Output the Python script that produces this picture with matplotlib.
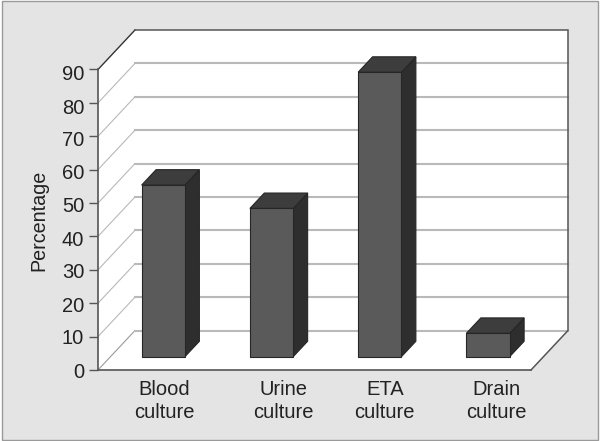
import matplotlib
matplotlib.use("Agg")
import matplotlib.pyplot as plt
from matplotlib.patches import Polygon, Rectangle
from matplotlib.transforms import ScaledTranslation

categories = ["Blood\nculture", "Urine\nculture", "ETA\nculture", "Drain\nculture"]
values = [51.4, 44.4, 85.2, 7.0]
y_ticks = [0, 10, 20, 30, 40, 50, 60, 70, 80, 90]

W, H = 600, 441
plt.rcParams["font.family"] = ["Liberation Sans", "DejaVu Sans"]
fig = plt.figure(figsize=(6, 4.41), dpi=100, facecolor="white")
fig.add_artist(Rectangle((1.5 / W, 1.5 / H), 596.5 / W, 438.5 / H, transform=fig.transFigure,
                         facecolor="#e4e4e4", edgecolor="#9a9a9a", linewidth=1.0, zorder=-5))

# front plane of the pseudo-3D box, in pixels
left, right, bottom, top = 98, 531, 71, 371.5
ax = fig.add_axes([left / W, bottom / H, (right - left) / W, (top - bottom) / H])
ax.set_xlim(0, 4)
ax.set_ylim(0, 90)
ax.patch.set_alpha(0)

DX = 37 / ((right - left) / 4)          # wall depth, x data units
DY = 39.5 / ((top - bottom) / 90)       # wall depth, y data units
start, depth, bar_w = 0.337, 0.39, 0.40
text_c, axis_c, grid_c = "#222222", "#555555", "#b9b9b9"

ax.add_patch(Polygon([(0, 0), (0, 90), (DX, 90 + DY), (4 + DX, 90 + DY), (4 + DX, DY), (4, 0)],
                     closed=True, facecolor="white", edgecolor="none", clip_on=False, zorder=1))

for v in y_ticks[:-1]:
    ax.plot([0, DX], [v, v + DY], color=grid_c if v else "#9a9a9a", lw=0.8, clip_on=False, zorder=2)
    if v:
        ax.plot([DX, 4 + DX], [v + DY, v + DY], color=grid_c, lw=1.5, clip_on=False, zorder=2)
ax.plot([DX, 4 + DX], [DY, DY], color=grid_c, lw=1.5, clip_on=False, zorder=2)

ax.plot([0, DX], [90, 90 + DY], color="#333333", lw=1.0, clip_on=False, zorder=3)
ax.plot([DX, 4 + DX, 4 + DX, 4], [90 + DY, 90 + DY, DY, 0], color=axis_c, lw=1.1,
        clip_on=False, zorder=3, solid_joinstyle="miter")

sx, sy = DX * start, DY * start
ex, ey = DX * depth, DY * depth
edge = "#262626"
for i, v in enumerate(values):
    x0 = i + 0.5 - bar_w / 2 + sx - 0.012
    x1 = x0 + bar_w
    ax.add_patch(Polygon([(x1, sy), (x1, sy + v), (x1 + ex, sy + v + ey), (x1 + ex, sy + ey)],
                         closed=True, facecolor="#2e2e2e", edgecolor=edge, lw=0.8, clip_on=False, zorder=4))
    ax.add_patch(Polygon([(x0, sy + v), (x1, sy + v), (x1 + ex, sy + v + ey), (x0 + ex, sy + v + ey)],
                         closed=True, facecolor="#3d3d3d", edgecolor=edge, lw=0.8, clip_on=False, zorder=4))
    ax.bar(x0, v, width=bar_w, bottom=sy, align="edge", color="#5a5a5a", edgecolor=edge, lw=0.8,
           clip_on=False, zorder=5)

for s in ("top", "right"):
    ax.spines[s].set_visible(False)
for s in ("left", "bottom"):
    ax.spines[s].set_color(axis_c)
    ax.spines[s].set_linewidth(1.2)
    ax.spines[s].set_zorder(6)

ax.set_yticks(y_ticks)
ax.tick_params(axis="y", direction="out", length=6.5, width=1.0, color=axis_c,
               labelsize=14.5, labelcolor=text_c, pad=3.5)
# tick labels in the reference drift slightly below their ticks towards the top
for v, lab in zip(y_ticks, ax.get_yticklabels()):
    lab.set_transform(lab.get_transform() + ScaledTranslation(0, -(v / 90) * 3.5 / 100, fig.dpi_scale_trans))

# hand-placed label centres in the reference are not evenly spaced
label_x = [0.61, 1.71, 2.65, 3.68]
ax.set_xticks(label_x)
ax.set_xticklabels(categories, fontsize=14.5, color=text_c, linespacing=1.3)
ax.tick_params(axis="x", length=0, pad=7)
ax.set_ylabel("Percentage", fontsize=14.2, color=text_c)
ax.yaxis.set_label_coords((48 - left) / (right - left), 0.497)

fig.savefig("out.png", dpi=100, facecolor=fig.get_facecolor())
